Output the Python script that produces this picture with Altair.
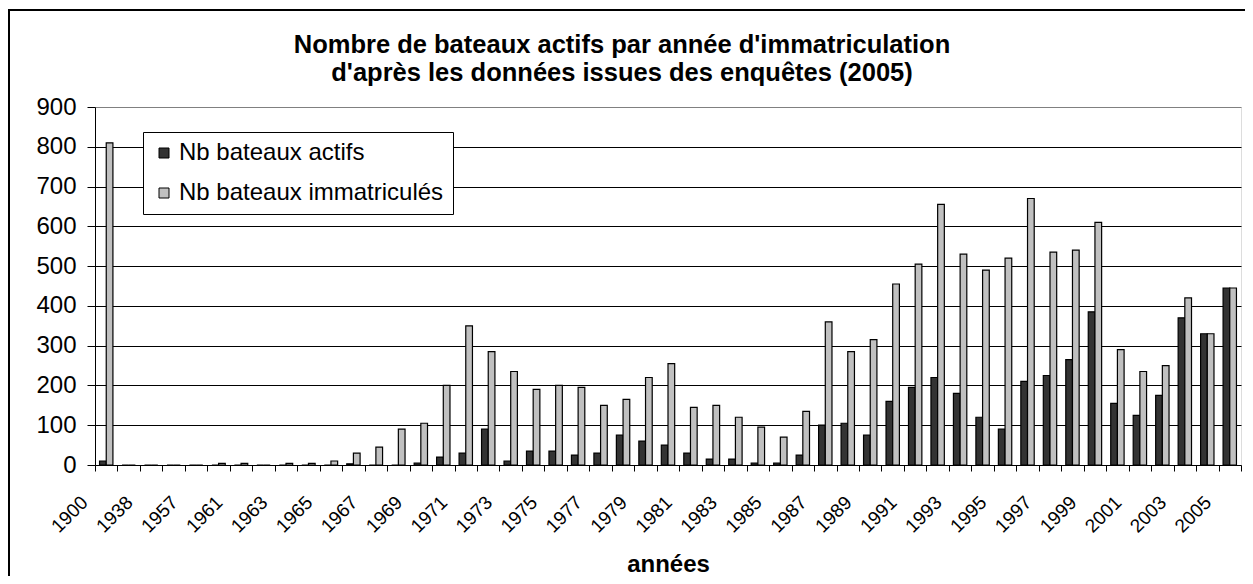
import altair as alt
import pandas as pd

# Categories (years of registration); a few unlabeled categories sit between labeled ones
annees = ["1900", "1930", "1938", "1950", "1957", "1960",
          "1961", "1962", "1963", "1964", "1965", "1966", "1967", "1968", "1969",
          "1970", "1971", "1972", "1973", "1974", "1975", "1976", "1977", "1978",
          "1979", "1980", "1981", "1982", "1983", "1984", "1985", "1986", "1987",
          "1988", "1989", "1990", "1991", "1992", "1993", "1994", "1995", "1996",
          "1997", "1998", "1999", "2000", "2001", "2002", "2003", "2004", "2005"]

actifs = [10, 0, 0, 0, 0, 0,
          0, 0, 0, 0, 0, 3, 0, 0, 5,
          20, 30, 90, 10, 35, 35, 25, 30, 75,
          60, 50, 30, 15, 15, 5, 5, 25, 100,
          105, 75, 160, 195, 220, 180, 120, 90, 210,
          225, 265, 385, 155, 125, 175, 370, 330, 445]

immatricules = [810, 0, 0, 0, 0, 4,
                4, 0, 4, 4, 10, 30, 45, 90, 105,
                200, 350, 285, 235, 190, 200, 195, 150, 165,
                220, 255, 145, 150, 120, 95, 70, 135, 360,
                285, 315, 455, 505, 655, 530, 490, 520, 670,
                535, 540, 610, 290, 235, 250, 420, 330, 445]

labels_affiches = ["1900", "1938", "1957"] + [str(y) for y in range(1961, 2006, 2)]

series = ["Nb bateaux actifs", "Nb bateaux immatriculés"]
couleurs = ["#333333", "#c0c0c0"]

titre = ["Nombre de bateaux actifs par année d'immatriculation",
         "d'après les données issues des enquêtes (2005)"]

rows = []
for a, v1, v2 in zip(annees, actifs, immatricules):
    rows.append({"annee": a, "serie": series[0], "valeur": v1})
    rows.append({"annee": a, "serie": series[1], "valeur": v2})
df = pd.DataFrame(rows)

FONT = "Liberation Sans"
label_list = "[" + ",".join("'" + s + "'" for s in labels_affiches) + "]"

bars = alt.Chart(df).mark_bar(stroke="black", strokeWidth=1.2).encode(
    x=alt.X("annee:N", sort=annees,
            scale=alt.Scale(paddingInner=0, paddingOuter=0),
            axis=alt.Axis(title="années", labelAngle=-45, labelAlign="right",
                          labelBaseline="middle", labelOffset=-22, labelPadding=28,
                          labelFontSize=19, labelFont=FONT, labelColor="black",
                          labelOverlap=False, labelBound=False,
                          labelExpr="indexof(" + label_list + ", datum.value) >= 0 ? datum.value : ''",
                          tickBand="extent", tickSize=6, tickColor="black",
                          domainColor="black", grid=False,
                          titleFont=FONT, titleFontSize=24, titleFontWeight="bold",
                          titleColor="black", titleY=106, titleBaseline="alphabetic")),
    xOffset=alt.XOffset("serie:N", sort=series,
                        scale=alt.Scale(paddingInner=0, paddingOuter=0.68)),
    y=alt.Y("valeur:Q", scale=alt.Scale(domain=[0, 900], nice=False),
            axis=alt.Axis(title=None, values=list(range(0, 1000, 100)),
                          labelFontSize=24, labelFont=FONT, labelColor="black",
                          labelPadding=11, tickSize=8, tickColor="black",
                          domainColor="black", grid=True,
                          gridColor={"condition": {"test": "datum.value === 900 || datum.value === 0",
                                                   "value": "#808080"},
                                     "value": "black"})),
    color=alt.Color("serie:N", sort=series,
                    scale=alt.Scale(domain=series, range=couleurs),
                    legend=alt.Legend(title=None, orient="none", legendX=48, legendY=25,
                                      symbolType="square", symbolSize=100,
                                      symbolStrokeColor="black", symbolStrokeWidth=1,
                                      labelFontSize=24, labelFont=FONT, labelColor="black",
                                      labelLimit=500, labelOffset=3,
                                      padding=9, rowPadding=16,
                                      strokeColor="black", fillColor="white")),
)

titre1 = alt.Chart(alt.Data(values=[{}])).mark_text(
    font=FONT, fontSize=25.5, fontWeight="bold", color="black",
    align="center", baseline="alphabetic"
).encode(x=alt.value(527), y=alt.value(-54), text=alt.value(titre[0]))

titre2 = alt.Chart(alt.Data(values=[{}])).mark_text(
    font=FONT, fontSize=25.5, fontWeight="bold", color="black",
    align="center", baseline="alphabetic"
).encode(x=alt.value(527), y=alt.value(-26), text=alt.value(titre[1]))

# chart-area frame: only its left and top edges fall inside the picture
cadre_haut = alt.Chart(alt.Data(values=[{}])).mark_rule(
    stroke="black", strokeWidth=2, clip=False
).encode(x=alt.value(-87), x2=alt.value(1150), y=alt.value(-97))

cadre_gauche = alt.Chart(alt.Data(values=[{}])).mark_rule(
    stroke="black", strokeWidth=2, clip=False
).encode(x=alt.value(-86), y=alt.value(-98), y2=alt.value(469))

chart = alt.layer(bars, titre1, titre2, cadre_haut, cadre_gauche).properties(
    width=1146, height=358,
    autosize=alt.AutoSizeParams(type="none"),
    padding={"left": 87, "top": 99, "right": 4, "bottom": 111},
).configure_view(stroke="#808080", strokeWidth=1).configure(background="white")

chart.save("out.html", embed_options={"renderer": "svg", "actions": False})
